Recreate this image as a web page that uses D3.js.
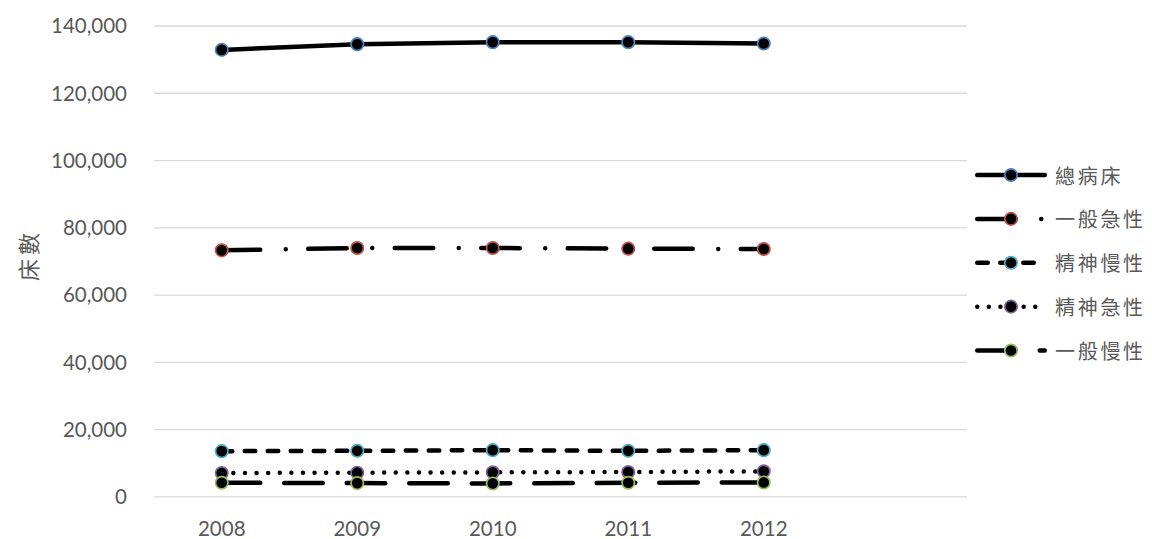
<!DOCTYPE html>
<html>
<head>
<meta charset="utf-8">
<script src="https://cdn.jsdelivr.net/npm/d3@7/dist/d3.min.js"></script>
<style>
  html, body { margin: 0; padding: 0; background: #ffffff; }
  svg { display: block; }
</style>
</head>
<body>
<svg id="chart" width="1152" height="539"></svg>
<script>
// Hospital beds by type, 2008–2012
const years = ["2008", "2009", "2010", "2011", "2012"];
const slots = years.concat([""]);            // trailing empty slot on the category axis
const seriesNames = ["總病床", "一般急性", "精神慢性", "精神急性", "一般慢性"];
const totalBeds      = [132900, 134600, 135200, 135200, 134800];
const generalAcute   = [73300, 74000, 74000, 73800, 73700];
const psychChronic   = [13600, 13700, 13900, 13700, 13900];
const psychAcute     = [7100, 7200, 7300, 7400, 7600];
const generalChronic = [4200, 4100, 4000, 4200, 4300];
const yTicks = [0, 20000, 40000, 60000, 80000, 100000, 120000, 140000];
const yTitle = "床數";

const seriesValues = [totalBeds, generalAcute, psychChronic, psychAcute, generalChronic];

// drawing styles per series
const markerColors = ["#4F81BD", "#C0504D", "#4BACC6", "#8064A2", "#9BBB59"];
const dashPatterns = [
  null,                 // solid
  "38.5 25.5 0 22.5",   // long dash + dot
  "10.5 12.5",          // dash
  "0 11.6",             // round dot
  "38.5 24"             // long dash
];
const lineWidth = 4.5;

const svg = d3.select("#chart");
const margin = { left: 154, right: 1152 - 967, top: 26, bottom: 539 - 496.9 };

const x = d3.scaleBand()
  .domain(slots)
  .range([margin.left, 1152 - margin.right]);

const y = d3.scaleLinear()
  .domain([0, 140000])
  .range([539 - margin.bottom, margin.top]);

const cx = d => x(d) + x.bandwidth() / 2;

// horizontal gridlines (the zero line doubles as the category axis)
svg.append("g")
  .selectAll("line")
  .data(yTicks)
  .join("line")
  .attr("x1", x.range()[0])
  .attr("x2", x.range()[1])
  .attr("y1", d => y(d))
  .attr("y2", d => y(d))
  .attr("stroke", "#d9d9d9")
  .attr("stroke-width", 1.3);

// value axis labels
const fmt = d3.format(",");
svg.append("g")
  .selectAll("text")
  .data(yTicks)
  .join("text")
  .attr("x", 127)
  .attr("y", d => y(d) + 7.4)
  .attr("text-anchor", "end")
  .attr("font-family", "Lato, 'Open Sans', sans-serif")
  .attr("font-size", 20.5)
  .attr("fill", "#595959")
  .text(d => fmt(d));

// category axis labels
svg.append("g")
  .selectAll("text")
  .data(years)
  .join("text")
  .attr("x", d => cx(d))
  .attr("y", 535.5)
  .attr("text-anchor", "middle")
  .attr("font-family", "Lato, 'Open Sans', sans-serif")
  .attr("font-size", 20.5)
  .attr("fill", "#595959")
  .text(d => d);

// value axis title
svg.append("text")
  .attr("transform", "translate(27,255) rotate(-90)")
  .attr("text-anchor", "middle")
  .attr("dominant-baseline", "central")
  .attr("font-family", "'Noto Sans CJK TC', 'Noto Sans CJK SC', sans-serif")
  .attr("font-size", 22)
  .attr("letter-spacing", 4)
  .attr("fill", "#595959")
  .text(yTitle);

// series lines with markers
const line = d3.line()
  .x((d, i) => cx(years[i]))
  .y(d => y(d));

seriesValues.forEach((vals, s) => {
  const g = svg.append("g");
  g.append("path")
    .datum(vals)
    .attr("d", line)
    .attr("fill", "none")
    .attr("stroke", "#000")
    .attr("stroke-width", lineWidth)
    .attr("stroke-linecap", "round")
    .attr("stroke-linejoin", "round")
    .attr("stroke-dasharray", dashPatterns[s]);
  g.selectAll("circle")
    .data(vals)
    .join("circle")
    .attr("cx", (d, i) => cx(years[i]))
    .attr("cy", d => y(d))
    .attr("r", 6.2)
    .attr("fill", "#000")
    .attr("stroke", markerColors[s])
    .attr("stroke-width", 1.7);
});

// legend
const legendX0 = 977.25, legendX1 = 1044.75, legendTextX = 1055;
const legendY = d3.scaleLinear().domain([0, 4]).range([175, 350.5]);
const legend = svg.append("g");
seriesNames.forEach((name, s) => {
  const ly = legendY(s);
  legend.append("path")
    .attr("d", d3.line()([[legendX0, ly], [legendX1, ly]]))
    .attr("fill", "none")
    .attr("stroke", "#000")
    .attr("stroke-width", lineWidth)
    .attr("stroke-linecap", "round")
    .attr("stroke-dasharray", dashPatterns[s]);
  legend.append("circle")
    .attr("cx", (legendX0 + legendX1) / 2)
    .attr("cy", ly)
    .attr("r", 6.2)
    .attr("fill", "#000")
    .attr("stroke", markerColors[s])
    .attr("stroke-width", 1.7);
  legend.append("text")
    .attr("x", legendTextX)
    .attr("y", ly)
    .attr("dominant-baseline", "central")
    .attr("font-family", "'Noto Sans CJK TC', 'Noto Sans CJK SC', sans-serif")
    .attr("font-size", 20)
    .attr("letter-spacing", 2.7)
    .attr("fill", "#595959")
    .text(name);
});
</script>
</body>
</html>
